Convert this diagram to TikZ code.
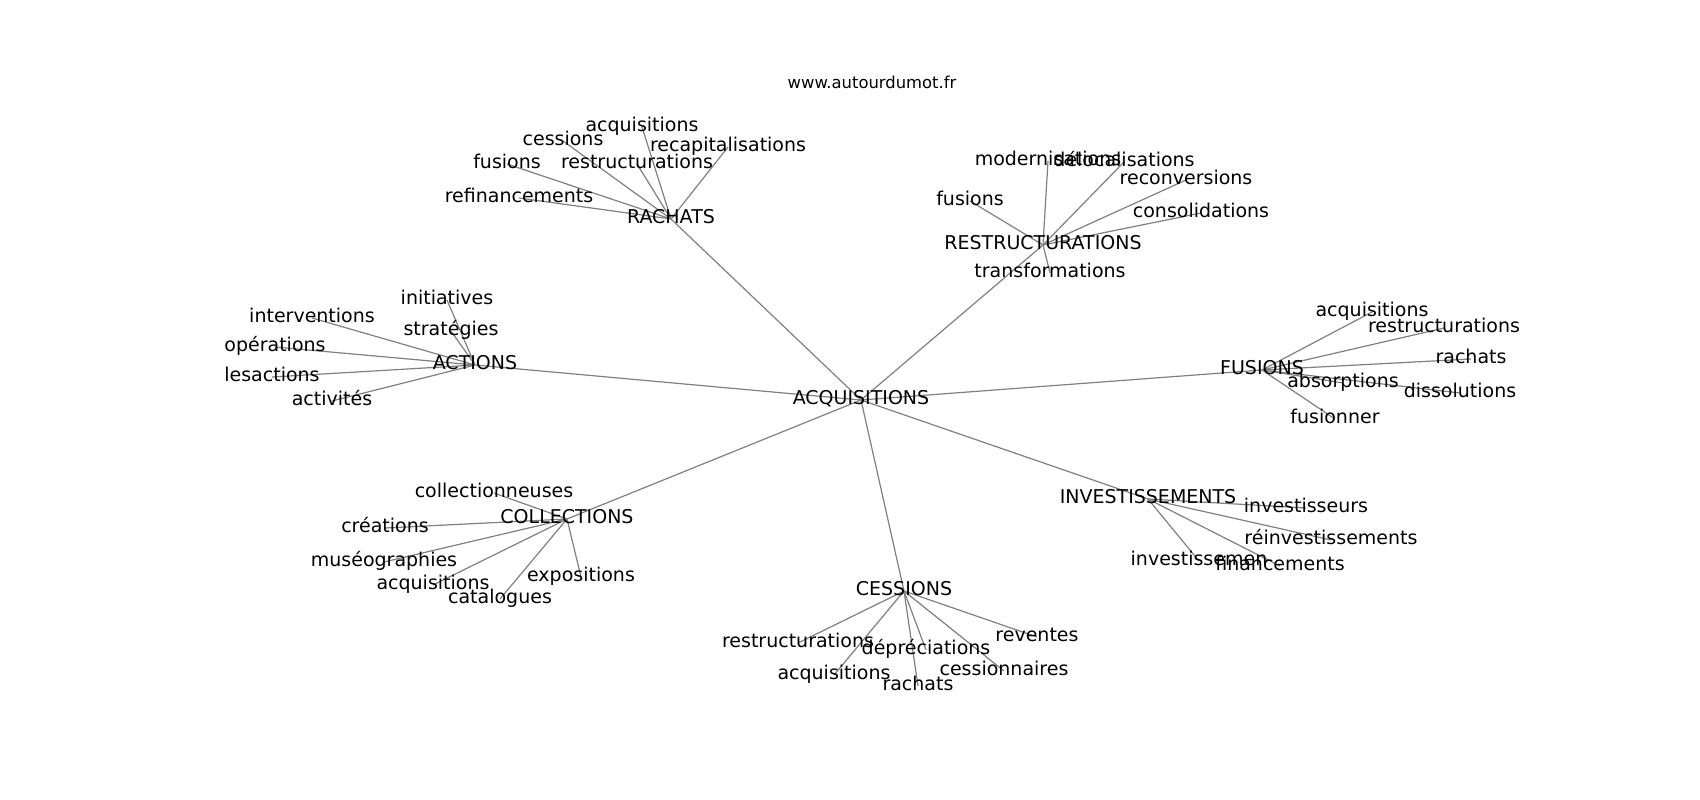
\documentclass[tikz,border=0pt]{standalone}
\usepackage{fontspec}
\setmainfont{DejaVu Sans}
\usepackage{tikz}
\pgfdeclarelayer{background}
\pgfsetlayers{background,main}

\begin{document}
\begin{tikzpicture}[x=1pt, y=-1pt, wordnode/.style={inner sep=0pt, text height=14.4pt, text depth=4.5pt, font=\fontsize{19}{19}\selectfont}, linkedge/.style={color=black!50, line width=1.2pt}]
\useasboundingbox (0,-3) rectangle (1700,797);

\node[inner sep=0pt, font=\fontsize{16.4}{16.4}\selectfont] at (872, 79) (title) {www.autourdumot.fr};

\node[wordnode] at (861, 397) (acq) {ACQUISITIONS};

\node[wordnode] at (671, 216) (rach) {RACHATS};
\node[wordnode] at (642, 124) (rach1) {acquisitions};
\node[wordnode] at (563, 138) (rach2) {cessions};
\node[wordnode] at (728, 144) (rach3) {recapitalisations};
\node[wordnode] at (637, 161) (rach4) {restructurations};
\node[wordnode] at (507, 161) (rach5) {fusions};
\node[wordnode] at (519, 195) (rach6) {refinancements};

\node[wordnode] at (1043, 242) (rest) {RESTRUCTURATIONS};
\node[wordnode] at (1048, 158) (rest1) {modernisations};
\node[wordnode] at (1124, 159) (rest2) {délocalisations};
\node[wordnode] at (1186, 177) (rest3) {reconversions};
\node[wordnode] at (970, 198) (rest4) {fusions};
\node[wordnode] at (1201, 210) (rest5) {consolidations};
\node[wordnode] at (1050, 270) (rest6) {transformations};

\node[wordnode] at (475, 362) (act) {ACTIONS};
\node[wordnode] at (447, 297) (act1) {initiatives};
\node[wordnode] at (312, 315) (act2) {interventions};
\node[wordnode] at (451, 328) (act3) {stratégies};
\node[wordnode] at (275, 344) (act4) {opérations};
\node[wordnode] at (272, 374) (act5) {lesactions};
\node[wordnode] at (332, 398) (act6) {activités};

\node[wordnode] at (1262, 367) (fus) {FUSIONS};
\node[wordnode] at (1372, 309) (fus1) {acquisitions};
\node[wordnode] at (1444, 325) (fus2) {restructurations};
\node[wordnode] at (1471, 356) (fus3) {rachats};
\node[wordnode] at (1343, 380) (fus4) {absorptions};
\node[wordnode] at (1460, 390) (fus5) {dissolutions};
\node[wordnode] at (1335, 416) (fus6) {fusionner};

\node[wordnode] at (567, 516) (coll) {COLLECTIONS};
\node[wordnode] at (494, 490) (coll1) {collectionneuses};
\node[wordnode] at (385, 525) (coll2) {créations};
\node[wordnode] at (384, 559) (coll3) {muséographies};
\node[wordnode] at (433, 582) (coll4) {acquisitions};
\node[wordnode] at (500, 596) (coll5) {catalogues};
\node[wordnode] at (581, 574) (coll6) {expositions};

\node[wordnode] at (1148, 496) (inv) {INVESTISSEMENTS};
\node[wordnode] at (1306, 505) (inv1) {investisseurs};
\node[wordnode] at (1331, 537) (inv2) {réinvestissements};
\node[wordnode] at (1199, 558) (inv3) {investissemen};
\node[wordnode] at (1280, 563) (inv4) {financements};

\node[wordnode] at (904, 588) (cess) {CESSIONS};
\node[wordnode] at (798, 640) (cess1) {restructurations};
\node[wordnode] at (926, 647) (cess2) {dépréciations};
\node[wordnode] at (1037, 634) (cess3) {reventes};
\node[wordnode] at (834, 672) (cess4) {acquisitions};
\node[wordnode] at (918, 683) (cess5) {rachats};
\node[wordnode] at (1004, 668) (cess6) {cessionnaires};

\begin{pgfonlayer}{background}
\draw[linkedge] (acq.center) -- (rach.center);
\draw[linkedge] (acq.center) -- (rest.center);
\draw[linkedge] (acq.center) -- (act.center);
\draw[linkedge] (acq.center) -- (fus.center);
\draw[linkedge] (acq.center) -- (coll.center);
\draw[linkedge] (acq.center) -- (inv.center);
\draw[linkedge] (acq.center) -- (cess.center);
\draw[linkedge] (rach.center) -- (rach1.center);
\draw[linkedge] (rach.center) -- (rach2.center);
\draw[linkedge] (rach.center) -- (rach3.center);
\draw[linkedge] (rach.center) -- (rach4.center);
\draw[linkedge] (rach.center) -- (rach5.center);
\draw[linkedge] (rach.center) -- (rach6.center);
\draw[linkedge] (rest.center) -- (rest1.center);
\draw[linkedge] (rest.center) -- (rest2.center);
\draw[linkedge] (rest.center) -- (rest3.center);
\draw[linkedge] (rest.center) -- (rest4.center);
\draw[linkedge] (rest.center) -- (rest5.center);
\draw[linkedge] (rest.center) -- (rest6.center);
\draw[linkedge] (act.center) -- (act1.center);
\draw[linkedge] (act.center) -- (act2.center);
\draw[linkedge] (act.center) -- (act3.center);
\draw[linkedge] (act.center) -- (act4.center);
\draw[linkedge] (act.center) -- (act5.center);
\draw[linkedge] (act.center) -- (act6.center);
\draw[linkedge] (fus.center) -- (fus1.center);
\draw[linkedge] (fus.center) -- (fus2.center);
\draw[linkedge] (fus.center) -- (fus3.center);
\draw[linkedge] (fus.center) -- (fus4.center);
\draw[linkedge] (fus.center) -- (fus5.center);
\draw[linkedge] (fus.center) -- (fus6.center);
\draw[linkedge] (coll.center) -- (coll1.center);
\draw[linkedge] (coll.center) -- (coll2.center);
\draw[linkedge] (coll.center) -- (coll3.center);
\draw[linkedge] (coll.center) -- (coll4.center);
\draw[linkedge] (coll.center) -- (coll5.center);
\draw[linkedge] (coll.center) -- (coll6.center);
\draw[linkedge] (inv.center) -- (inv1.center);
\draw[linkedge] (inv.center) -- (inv2.center);
\draw[linkedge] (inv.center) -- (inv3.center);
\draw[linkedge] (inv.center) -- (inv4.center);
\draw[linkedge] (cess.center) -- (cess1.center);
\draw[linkedge] (cess.center) -- (cess2.center);
\draw[linkedge] (cess.center) -- (cess3.center);
\draw[linkedge] (cess.center) -- (cess4.center);
\draw[linkedge] (cess.center) -- (cess5.center);
\draw[linkedge] (cess.center) -- (cess6.center);
\end{pgfonlayer}

\end{tikzpicture}
\end{document}
